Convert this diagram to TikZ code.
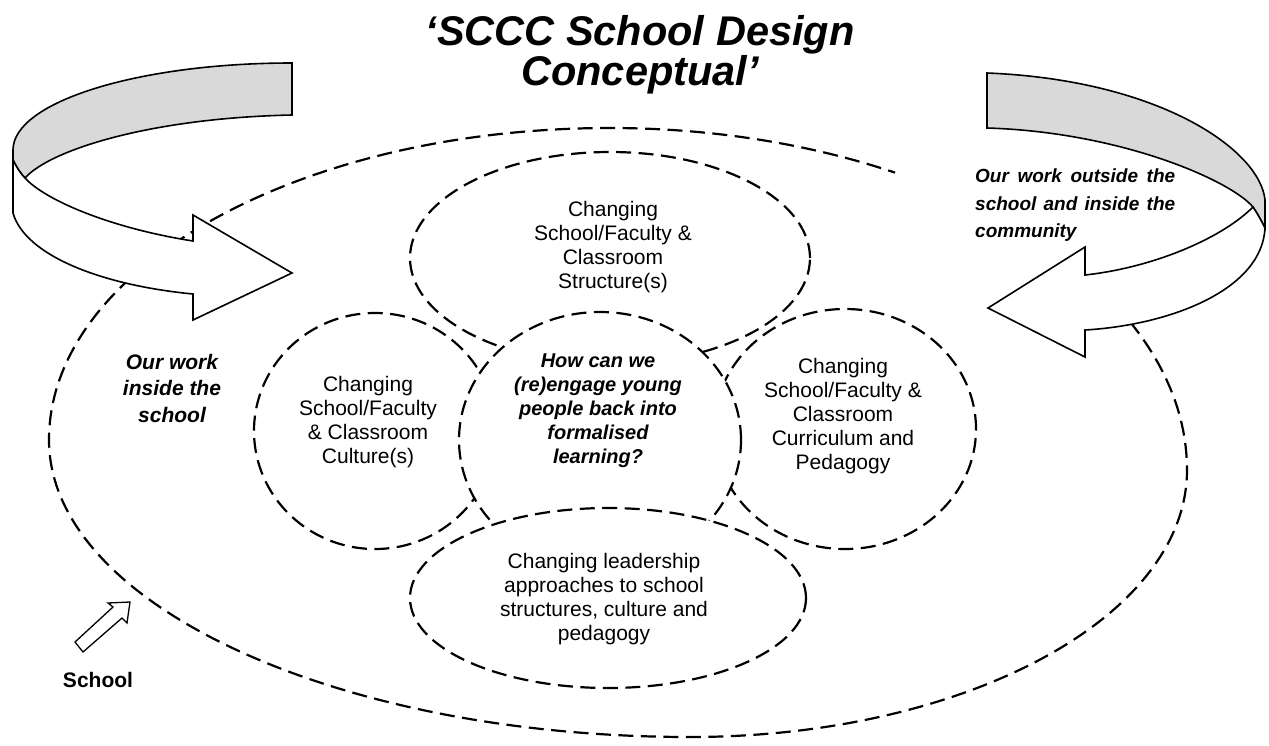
\documentclass[tikz,border=0pt]{standalone}
\usepackage{fontspec}
\setmainfont{Liberation Sans}
\usetikzlibrary{shapes.geometric}
\definecolor{ribbongray}{RGB}{217,217,217}
\begin{document}
\begin{tikzpicture}[x=1pt,y=-1pt,
  dashline/.style={draw=black, line width=2.2pt, dash pattern=on 15pt off 7.5pt},
  bubble/.style={ellipse, dashline, fill=white, inner sep=0pt},
  bubbletext/.style={align=center, font=\fontsize{21}{24.2}\selectfont, inner sep=0pt},
  ribbon/.style={draw=black, line width=1.6pt, line join=miter},
  biglabel/.style={font=\fontsize{21}{26.5}\selectfont\bfseries\itshape, inner sep=0pt},
  titlefont/.style={font=\fontsize{41.5}{41.5}\selectfont\bfseries\itshape, inner sep=0pt}
]
\useasboundingbox (0,0) rectangle (1269,745);
\fill[white] (0,0) rectangle (1269,745);

% outer "School" boundary (hidden part lies under the right arrow and label)
\draw[dashline] (610,470) ++(-25.7:577 and 342)
  arc[start angle=-25.7, end angle=0, x radius=577, y radius=342]
  arc[start angle=0, end angle=90, x radius=497, y radius=267]
  arc[start angle=90, end angle=180, x radius=641, y radius=297]
  arc[start angle=180, end angle=270, x radius=561, y radius=312]
  arc[start angle=270, end angle=299.6, x radius=577, y radius=342];

% bubbles
\node[bubble, minimum width=242pt, minimum height=236pt] (culture) at (375,431) {};
\node[bubble, minimum width=400pt, minimum height=212pt] (structure) at (610,258) {};
\node[bubble, minimum width=262pt, minimum height=240pt] (curriculum) at (845,429) {};
\node[bubble, minimum width=282pt, minimum height=256pt] (question) at (600,440) {};
\node[bubble, minimum width=396pt, minimum height=180pt] (leadership) at (608,598) {};

% bubble texts
\node[bubbletext] (structuretext) at (613,247) {Changing\\School/Faculty \&\\Classroom\\Structure(s)};
\node[bubbletext] (culturetext) at (368,422) {Changing\\School/Faculty\\\& Classroom\\Culture(s)};
\node[bubbletext] (curriculumtext) at (843,416) {Changing\\School/Faculty \&\\Classroom\\Curriculum and\\Pedagogy};
\node[bubbletext] (leadershiptext) at (604,599) {Changing leadership\\approaches to school\\structures, culture and\\pedagogy};
\node[bubbletext, font=\fontsize{20}{24}\selectfont\bfseries\itshape] (questiontext) at (598,411) {How can we\\(re)engage young\\people back into\\formalised\\learning?};

% labels
\node[biglabel, align=center] (inside) at (172,388) {Our work\\inside the\\school};
\node[biglabel, anchor=north west, text width=200pt, align=justify, font=\fontsize{19}{27.5}\selectfont\bfseries\itshape] (outside) at (975,169) {Our work outside the\linebreak school and inside the\linebreak community};

% left ribbon arrow
\filldraw[ribbon, fill=ribbongray] (292,63) .. controls (138,63) and (13,102) .. (13,150) -- (13,160)
  .. controls (17,168) and (21,174) .. (25,178) .. controls (50,150) and (150,118) .. (292,115) -- cycle;
\filldraw[ribbon, fill=white] (13,160) -- (13,213) .. controls (25,255) and (100,285) .. (193,294)
  -- (193,320) -- (292,273) -- (193,215) -- (193,241) .. controls (110,228) and (45,200) .. (25,178)
  .. controls (21,174) and (17,168) .. (13,160) -- cycle;

% right ribbon arrow
\filldraw[ribbon, fill=ribbongray] (987,73) .. controls (1160,80) and (1260,150) .. (1265,200) -- (1265,228)
  .. controls (1261,220) and (1257,213) .. (1253,207) .. controls (1230,180) and (1120,132) .. (987,128) -- cycle;
\filldraw[ribbon, fill=white] (1265,228) .. controls (1262,290) and (1170,325) .. (1085,330)
  -- (1085,357) -- (988,308) -- (1085,247) -- (1085,275) .. controls (1150,268) and (1220,240) .. (1253,207)
  .. controls (1257,213) and (1261,220) .. (1265,228) -- cycle;

% small school arrow
\filldraw[ribbon, fill=white, line width=1.3pt] (75,642) -- (113,607) -- (108,603) -- (130,602) -- (127,623) -- (122,618) -- (83,652) -- cycle;
\node[font=\fontsize{21}{24}\selectfont\bfseries, inner sep=0pt] (school) at (98,680) {School};

% title
\node[titlefont, anchor=base] (title1) at (640,45) {`SCCC School Design};
\node[titlefont, anchor=base] (title2) at (640,85) {Conceptual'};
\end{tikzpicture}
\end{document}
